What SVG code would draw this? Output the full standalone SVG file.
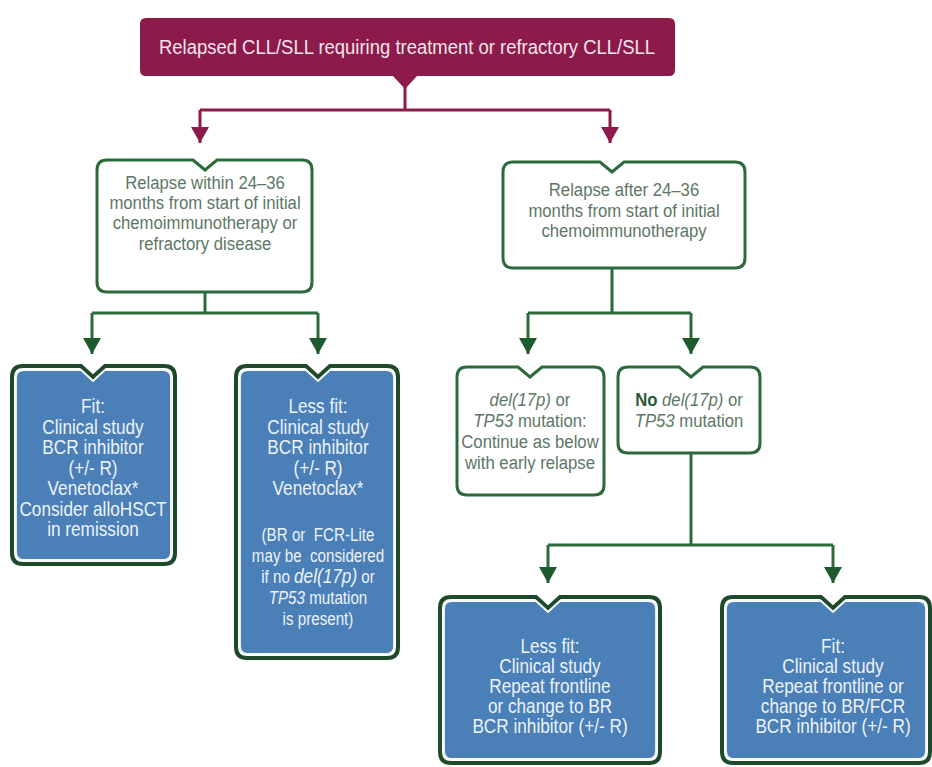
<svg xmlns="http://www.w3.org/2000/svg" width="932" height="767" viewBox="0 0 932 767">
<defs>
<style>
text{font-family:"Liberation Sans",Arial,sans-serif;text-anchor:middle}
.t{fill:#f3e4ea;font-size:21px}
.w{fill:#5d7766;font-size:19px}
.b{fill:#eef3f8;font-size:20px}
.s{fill:#eef3f8;font-size:18.5px}
.wb{fill:#fff;stroke:#2c6a3b;stroke-width:3}
.bo{fill:none;stroke:#1d4a2a;stroke-width:4}
.bi{fill:#4a7fb8;stroke:#f4f8fb;stroke-width:1.8}
.gc{fill:none;stroke:#2c6a3b;stroke-width:3;marker-end:url(#ag)}
.gl{fill:none;stroke:#2c6a3b;stroke-width:3}
.mc{fill:none;stroke:#8c1b4b;stroke-width:3;marker-end:url(#am)}
.ml{fill:none;stroke:#8c1b4b;stroke-width:3}
</style>
<marker id="ag" markerUnits="userSpaceOnUse" viewBox="0 0 16 18" refX="16" refY="9" markerWidth="16" markerHeight="18" orient="auto"><path d="M0,0 L16,9 L0,18 Z" fill="#1f5a2e"/></marker>
<marker id="am" markerUnits="userSpaceOnUse" viewBox="0 0 16 18" refX="16" refY="9" markerWidth="16" markerHeight="18" orient="auto"><path d="M0,0 L16,9 L0,18 Z" fill="#8c1b4b"/></marker>
</defs>
<rect width="932" height="767" fill="#fff"/>
<g id="connectors">
<path class="ml" d="M405,85 V110 M200,110 H610"/>
<path class="mc" d="M200,110 V143"/>
<path class="mc" d="M610,110 V143"/>
<path class="gl" d="M205,292 V313 M92,313 H318"/>
<path class="gc" d="M92,313 V354"/>
<path class="gc" d="M318,313 V354"/>
<path class="gl" d="M612,268 V313 M528,313 H691"/>
<path class="gc" d="M528,313 V354"/>
<path class="gc" d="M691,313 V354"/>
<path class="gl" d="M691,453 V545 M548,545 H833"/>
<path class="gc" d="M548,545 V583"/>
<path class="gc" d="M833,545 V583"/>
</g>
<g id="top">
<path d="M146,18 H669 Q675,18 675,24 V70 Q675,76 669,76 H417 L405,89 L393,76 H146 Q140,76 140,70 V24 Q140,18 146,18 Z" fill="#8c1b4b"/>
<text class="t" transform="matrix(0.88 0 0 1 407 54)">Relapsed CLL/SLL requiring treatment or refractory CLL/SLL</text>
</g>
<g id="early">
<path class="wb" d="M107,160 L193,160 L205,170 L217,160 L302,160 Q312,160 312,170 L312,282 Q312,292 302,292 L107,292 Q97,292 97,282 L97,170 Q97,160 107,160 Z"/>
<text class="w" transform="matrix(0.88 0 0 1 205 189)">Relapse within 24–36</text>
<text class="w" transform="matrix(0.88 0 0 1 205 209)">months from start of initial</text>
<text class="w" transform="matrix(0.88 0 0 1 205 229)">chemoimmunotherapy or</text>
<text class="w" transform="matrix(0.88 0 0 1 205 250)">refractory disease</text>
</g>
<g id="late">
<path class="wb" d="M513,162 L600,162 L612,172 L624,162 L735,162 Q745,162 745,172 L745,258 Q745,268 735,268 L513,268 Q503,268 503,258 L503,172 Q503,162 513,162 Z"/>
<text class="w" transform="matrix(0.88 0 0 1 624 196)">Relapse after 24–36</text>
<text class="w" transform="matrix(0.88 0 0 1 624 217)">months from start of initial</text>
<text class="w" transform="matrix(0.88 0 0 1 624 237)">chemoimmunotherapy</text>
</g>
<g id="fit1">
<path class="bo" d="M23,366 L81,366 L93,377 L105,366 L164,366 Q175,366 175,377 L175,553 Q175,564 164,564 L23,564 Q12,564 12,553 L12,377 Q12,366 23,366 Z"/>
<path class="bi" d="M24,370 L81,370 L93,381 L105,370 L163,370 Q171,370 171,378 L171,552 Q171,560 163,560 L24,560 Q16,560 16,552 L16,378 Q16,370 24,370 Z"/>
<text class="b" transform="matrix(0.86 0 0 1 93 413)">Fit:</text>
<text class="b" transform="matrix(0.86 0 0 1 93 434)">Clinical study</text>
<text class="b" transform="matrix(0.86 0 0 1 93 454)">BCR inhibitor</text>
<text class="b" transform="matrix(0.86 0 0 1 93 475)">(+/- R)</text>
<text class="b" transform="matrix(0.86 0 0 1 93 495)">Venetoclax*</text>
<text class="b" transform="matrix(0.86 0 0 1 93 516)">Consider alloHSCT</text>
<text class="b" transform="matrix(0.86 0 0 1 93 536)">in remission</text>
</g>
<g id="lessfit1">
<path class="bo" d="M247,366 L306,366 L318,377 L330,366 L387,366 Q398,366 398,377 L398,647 Q398,658 387,658 L247,658 Q236,658 236,647 L236,377 Q236,366 247,366 Z"/>
<path class="bi" d="M248,370 L306,370 L318,381 L330,370 L386,370 Q394,370 394,378 L394,646 Q394,654 386,654 L248,654 Q240,654 240,646 L240,378 Q240,370 248,370 Z"/>
<text class="b" transform="matrix(0.86 0 0 1 318 413)">Less fit:</text>
<text class="b" transform="matrix(0.86 0 0 1 318 434)">Clinical study</text>
<text class="b" transform="matrix(0.86 0 0 1 318 454)">BCR inhibitor</text>
<text class="b" transform="matrix(0.86 0 0 1 318 475)">(+/- R)</text>
<text class="b" transform="matrix(0.86 0 0 1 318 495)">Venetoclax*</text>
<text class="s" transform="matrix(0.82 0 0 1 318 541)">(BR or&#160; FCR-Lite</text>
<text class="s" transform="matrix(0.82 0 0 1 318 562)">may be&#160; considered</text>
<text class="s" transform="matrix(0.82 0 0 1 318 583)">if no <tspan font-style="italic" font-size="21">del(17p)</tspan> or</text>
<text class="s" transform="matrix(0.82 0 0 1 318 604)"><tspan font-style="italic">TP53</tspan> mutation</text>
<text class="s" transform="matrix(0.82 0 0 1 318 625)">is present)</text>
</g>
<g id="del17p">
<path class="wb" d="M467,367 L518,367 L530,377 L542,367 L594,367 Q604,367 604,377 L604,485 Q604,495 594,495 L467,495 Q457,495 457,485 L457,377 Q457,367 467,367 Z"/>
<text class="w" transform="matrix(0.88 0 0 1 530 406)"><tspan font-style="italic">del(17p)</tspan> or</text>
<text class="w" transform="matrix(0.88 0 0 1 530 427)"><tspan font-style="italic">TP53</tspan> mutation:</text>
<text class="w" transform="matrix(0.88 0 0 1 530 448)">Continue as below</text>
<text class="w" transform="matrix(0.88 0 0 1 530 469)">with early relapse</text>
</g>
<g id="nodel17p">
<path class="wb" d="M628,367 L679,367 L691,377 L703,367 L750,367 Q760,367 760,377 L760,443 Q760,453 750,453 L628,453 Q618,453 618,443 L618,377 Q618,367 628,367 Z"/>
<text class="w" transform="matrix(0.88 0 0 1 689 406)"><tspan font-weight="bold" fill="#2c5a38">No</tspan> <tspan font-style="italic">del(17p)</tspan> or</text>
<text class="w" transform="matrix(0.88 0 0 1 689 427)"><tspan font-style="italic">TP53</tspan> mutation</text>
</g>
<g id="lessfit2">
<path class="bo" d="M451,597 L536,597 L548,608 L560,597 L649,597 Q660,597 660,608 L660,752 Q660,763 649,763 L451,763 Q440,763 440,752 L440,608 Q440,597 451,597 Z"/>
<path class="bi" d="M452,601 L536,601 L548,612 L560,601 L648,601 Q656,601 656,609 L656,751 Q656,759 648,759 L452,759 Q444,759 444,751 L444,609 Q444,601 452,601 Z"/>
<text class="b" transform="matrix(0.86 0 0 1 550 653)">Less fit:</text>
<text class="b" transform="matrix(0.86 0 0 1 550 673)">Clinical study</text>
<text class="b" transform="matrix(0.86 0 0 1 550 693)">Repeat frontline</text>
<text class="b" transform="matrix(0.86 0 0 1 550 713)">or change to BR</text>
<text class="b" transform="matrix(0.86 0 0 1 550 733)">BCR inhibitor (+/- R)</text>
</g>
<g id="fit2">
<path class="bo" d="M733,597 L821,597 L833,608 L845,597 L919,597 Q930,597 930,608 L930,752 Q930,763 919,763 L733,763 Q722,763 722,752 L722,608 Q722,597 733,597 Z"/>
<path class="bi" d="M734,601 L821,601 L833,612 L845,601 L918,601 Q926,601 926,609 L926,751 Q926,759 918,759 L734,759 Q726,759 726,751 L726,609 Q726,601 734,601 Z"/>
<text class="b" transform="matrix(0.86 0 0 1 833 653)">Fit:</text>
<text class="b" transform="matrix(0.86 0 0 1 833 673)">Clinical study</text>
<text class="b" transform="matrix(0.86 0 0 1 833 693)">Repeat frontline or</text>
<text class="b" transform="matrix(0.86 0 0 1 833 713)">change to BR/FCR</text>
<text class="b" transform="matrix(0.86 0 0 1 833 733)">BCR inhibitor (+/- R)</text>
</g>
</svg>
